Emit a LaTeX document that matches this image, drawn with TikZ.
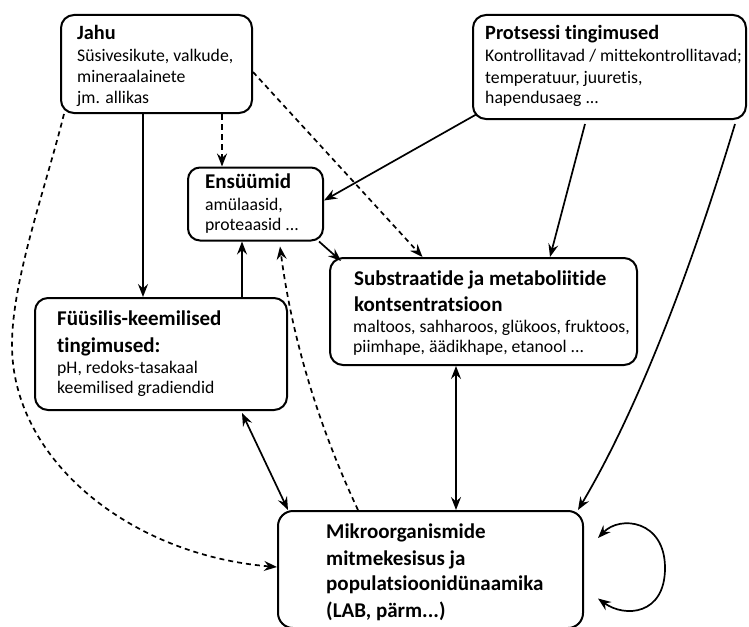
\documentclass[tikz,border=0pt]{standalone}
\usepackage{fontspec}
\setmainfont{Carlito}[Ligatures=NoCommon]
\usetikzlibrary{arrows.meta}
\begin{document}
\begin{tikzpicture}[x=1pt,y=-1pt,
  box/.style={draw, line width=2pt, rounded corners=13pt, inner sep=0pt},
  arr/.style={line width=1.7pt, -{Stealth[length=13pt,width=10pt,inset=4.5pt]}},
  darr/.style={line width=1.7pt, {Stealth[length=13pt,width=10pt,inset=4.5pt]}-{Stealth[length=13pt,width=10pt,inset=4.5pt]}},
  dsh/.style={dash pattern=on 5pt off 4pt},
  ttl/.style={font=\bfseries\fontsize{21}{23}\selectfont, anchor=base west, inner sep=0pt},
  sttl/.style={font=\bfseries\fontsize{20.3}{23}\selectfont, anchor=base west, inner sep=0pt},
  bod/.style={font=\fontsize{17.7}{20}\selectfont, anchor=base west, inner sep=0pt}]
\useasboundingbox (0,0) rectangle (749,626);

% boxes
\node[box, minimum width=191pt, minimum height=98pt] (jahu) at (156.5,64) {};
\node[box, minimum width=273pt, minimum height=104pt] (prots) at (609.5,67) {};
\node[box, minimum width=135pt, minimum height=73pt, rounded corners=12pt] (ens) at (255.5,204) {};
\node[box, minimum width=252pt, minimum height=112pt] (fys) at (161,354) {};
\node[box, minimum width=307pt, minimum height=107pt] (subs) at (483.5,311.5) {};
\node[box, minimum width=305pt, minimum height=117pt, rounded corners=15pt] (mikro) at (430.5,569.5) {};

% texts
\node[sttl] (jahuT) at (77,40) {Jahu};
\node[bod] (jahuA) at (77,62) {Süsivesikute, valkude,};
\node[bod] (jahuB) at (77,82) {mineraalainete};
\node[bod] (jahuC) at (77,103) {jm. allikas};

\node[sttl] (protsT) at (485,40) {Protsessi tingimused};
\node[bod] (protsA) at (485,62) {Kontrollitavad / mittekontrollitavad;};
\node[bod] (protsB) at (485,83) {temperatuur, juuretis,};
\node[bod] (protsC) at (485,103) {hapendusaeg ...};

\node[ttl] (ensT) at (205,188) {Ensüümid};
\node[bod] (ensA) at (205,210) {amülaasid,};
\node[bod] (ensB) at (205,230) {proteaasid ...};

\node[ttl] (fysT) at (57,325) {Füüsilis-keemilised};
\node[ttl] (fysU) at (57,352) {tingimused:};
\node[bod] (fysA) at (57,373) {pH, redoks-tasakaal};
\node[bod] (fysB) at (57,393) {keemilised gradiendid};

\node[ttl] (subsT) at (354,285) {Substraatide ja metaboliitide};
\node[ttl] (subsU) at (354,311) {kontsentratsioon};
\node[bod] (subsA) at (353,332) {maltoos, sahharoos, glükoos, fruktoos,};
\node[bod] (subsB) at (353,352) {piimhape, äädikhape, etanool ...};

\node[ttl] (mikT) at (326,538) {Mikroorganismide};
\node[ttl] (mikU) at (326,565) {mitmekesisus ja};
\node[ttl] (mikV) at (326,590) {populatsioonidünaamika};
\node[ttl] (mikW) at (326,617) {(LAB, pärm...)};

% connectors
\draw[arr] ([xshift=-13.5pt]jahu.south) -- ([xshift=-18pt]fys.north);
\draw[arr, line width=2.4pt, dash pattern=on 6pt off 4pt] ([xshift=65.5pt]jahu.south) -- ([xshift=-33.5pt]ens.north);
\draw[arr, dsh] ([yshift=-8pt]jahu.east) -- ([xshift=-61pt]subs.north);
\draw[arr, dsh] ([xshift=4pt]jahu.south west) .. controls (45,190) and (12,280) .. (12,345)
   .. controls (12,460) and (130,555) .. ([yshift=2.5pt]mikro.west);

\draw[arr] ([xshift=5pt,yshift=6pt]prots.south west) -- ([yshift=3.5pt]ens.east);
\draw[arr] ([xshift=-24.5pt,yshift=-4pt]prots.south) -- ([xshift=66.5pt]subs.north);
\draw[arr] ([xshift=125.5pt,yshift=-4pt]prots.south) .. controls (690,273) and (637,411) .. ([xshift=-6pt]mikro.north east);

\draw[arr] ([xshift=-5pt]ens.south east) -- ([xshift=12pt,yshift=-4pt]subs.north west);
\draw[arr] ([xshift=81pt]fys.north) -- ([xshift=-13.5pt]ens.south);
\draw[arr, dsh] ([xshift=-72.5pt]mikro.north) .. controls (319,427) and (292,339) .. ([xshift=24.5pt,yshift=-5pt]ens.south);

\draw[darr] ([xshift=81pt,yshift=-2pt]fys.south) -- ([xshift=-142.5pt]mikro.north);
\draw[darr] ([xshift=-27.5pt]subs.south) -- ([xshift=25.5pt]mikro.north);

\draw[darr] ([xshift=14pt,yshift=31.5pt]mikro.east) .. controls (620,515) and (665,520) .. (665,568)
   .. controls (665,615) and (625,618) .. ([xshift=14pt,yshift=-29pt]mikro.east);
\end{tikzpicture}
\end{document}
